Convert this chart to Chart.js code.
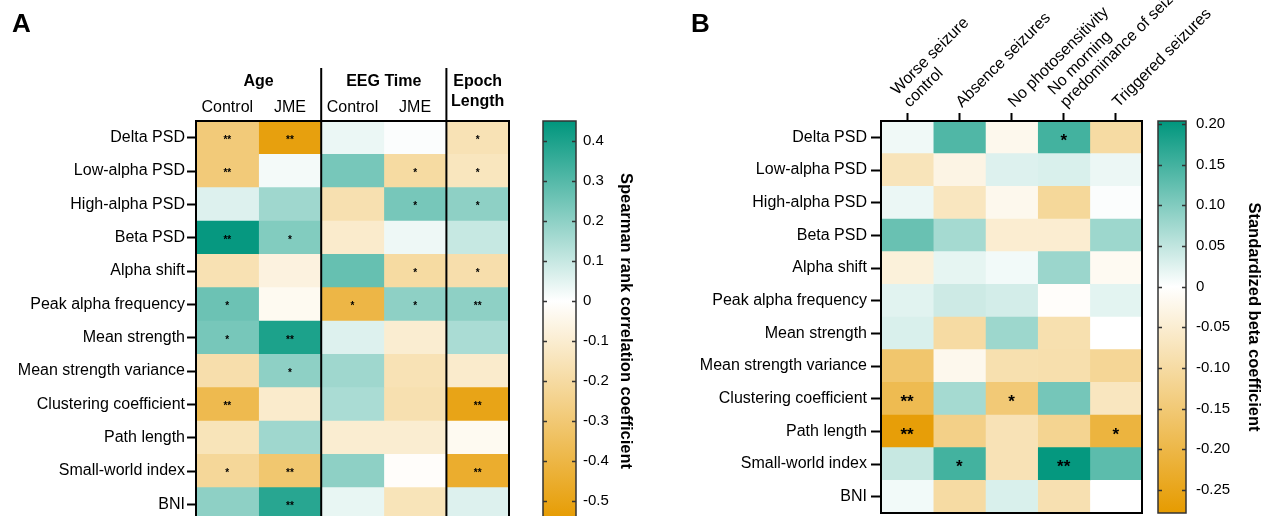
<!DOCTYPE html>
<html>
<head>
<meta charset="utf-8">
<script src="https://cdn.jsdelivr.net/npm/chart.js@4.4.0/dist/chart.umd.min.js"></script>
<style>
  html, body { margin: 0; padding: 0; background: #fff; overflow: hidden; }
  #wrap { position: relative; width: 1267px; height: 516px; overflow: hidden; }
  canvas { position: absolute; top: 0; }
</style>
</head>
<body>
<div id="wrap">
  <canvas id="heatA" width="520" height="540" style="left:0px"></canvas>
  <canvas id="barA" width="140" height="540" style="left:520px"></canvas>
  <canvas id="heatB" width="607" height="540" style="left:660px"></canvas>
  <canvas id="barB" width="127" height="540" style="left:1140px"></canvas>
</div>
<script>
// rows shared by both panels
const features = ["Delta PSD", "Low-alpha PSD", "High-alpha PSD", "Beta PSD", "Alpha shift",
  "Peak alpha frequency", "Mean strength", "Mean strength variance", "Clustering coefficient",
  "Path length", "Small-world index", "BNI"];

// panel A: Spearman rank correlations
const colsA = ["Control", "JME", "Control", "JME", ""];
const groupNamesA = ["Age", "EEG Time", ["Epoch", "Length"]];
const groupColsA = [[0, 2], [2, 4], [4, 5]];
const rhoA = [
  [-0.29, -0.52, 0.035, 0.007, -0.16],
  [-0.29, 0.02, 0.24, -0.20, -0.14],
  [0.06, 0.17, -0.17, 0.24, 0.20],
  [0.44, 0.22, -0.11, 0.03, 0.10],
  [-0.165, -0.07, 0.27, -0.20, -0.18],
  [0.26, -0.03, -0.40, 0.20, 0.20],
  [0.24, 0.40, 0.06, -0.10, 0.15],
  [-0.18, 0.20, 0.17, -0.16, -0.11],
  [-0.38, -0.11, 0.15, -0.17, -0.50],
  [-0.15, 0.17, -0.10, -0.10, -0.03],
  [-0.22, -0.31, 0.20, -0.01, -0.45],
  [0.20, 0.38, 0.04, -0.15, 0.06]
];
const starsA = [
  ["**", "**", "", "", "*"],
  ["**", "", "", "*", "*"],
  ["", "", "", "*", "*"],
  ["**", "*", "", "", ""],
  ["", "", "", "*", "*"],
  ["*", "", "*", "*", "**"],
  ["*", "**", "", "", ""],
  ["", "*", "", "", ""],
  ["**", "", "", "", "**"],
  ["", "", "", "", ""],
  ["*", "**", "", "", "**"],
  ["", "**", "", "", ""]
];
const rangeA = [-0.55, 0.45];
const ticksA = [0.4, 0.3, 0.2, 0.1, 0, -0.1, -0.2, -0.3, -0.4, -0.5];

// panel B: standardized beta coefficients
const colsB = [["Worse seizure", "control"], "Absence seizures", "No photosensitivity",
  ["No morning", "predominance of seizures"], "Triggered seizures"];
const betaB = [
  [0.012, 0.14, -0.02, 0.15, -0.10],
  [-0.075, -0.03, 0.027, 0.03, 0.015],
  [0.016, -0.07, -0.02, -0.11, 0.003],
  [0.12, 0.072, -0.05, -0.05, 0.078],
  [-0.04, 0.02, 0.01, 0.08, -0.014],
  [0.024, 0.04, 0.035, -0.005, 0.022],
  [0.03, -0.10, 0.078, -0.087, 0.0],
  [-0.16, -0.02, -0.087, -0.09, -0.115],
  [-0.19, 0.072, -0.15, 0.11, -0.07],
  [-0.27, -0.13, -0.08, -0.12, -0.21],
  [0.045, 0.15, -0.08, 0.20, 0.13],
  [0.01, -0.10, 0.03, -0.085, 0.0]
];
const starsB = [
  ["", "", "", "*", ""],
  ["", "", "", "", ""],
  ["", "", "", "", ""],
  ["", "", "", "", ""],
  ["", "", "", "", ""],
  ["", "", "", "", ""],
  ["", "", "", "", ""],
  ["", "", "", "", ""],
  ["**", "", "*", "", ""],
  ["**", "", "", "", "*"],
  ["", "*", "", "**", ""],
  ["", "", "", "", ""]
];
const rangeB = [-0.2785, 0.2037];
const ticksB = [0.20, 0.15, 0.10, 0.05, 0, -0.05, -0.10, -0.15, -0.20, -0.25];

const FONT = "'Liberation Sans', Arial, Helvetica, sans-serif";
Chart.defaults.font.family = FONT;
Chart.defaults.color = "#000";

const TEAL = [0, 150, 125];
const ORANGE = [230, 155, 0];

function mix(c, t) {
  t = Math.max(0, Math.min(1, t));
  return "rgb(" + c.map(v => Math.round(255 + (v - 255) * t)).join(",") + ")";
}
function colorFor(v, range) {
  return v >= 0 ? mix(TEAL, v / range[1]) : mix(ORANGE, v / range[0]);
}

function heatDatasets(values, range) {
  return values[0].map((_, j) => ({
    data: values.map(() => [j, j + 1]),
    backgroundColor: values.map(row => colorFor(row[j], range)),
    borderWidth: 0,
    grouped: false,
    barPercentage: 1,
    categoryPercentage: 1
  }));
}

function starPlugin(stars, size) {
  return {
    id: "stars",
    afterDatasetsDraw(chart) {
      const ctx = chart.ctx;
      ctx.save();
      ctx.fillStyle = "#000";
      ctx.font = "bold " + size + "px " + FONT;
      ctx.textAlign = "center";
      ctx.textBaseline = "middle";
      chart.data.datasets.forEach((ds, j) => {
        chart.getDatasetMeta(j).data.forEach((bar, i) => {
          if (!stars[i][j]) return;
          const p = bar.getCenterPoint();
          ctx.fillText(stars[i][j], p.x, p.y + size * 0.22);
        });
      });
      ctx.restore();
    }
  };
}

const boxPlugin = {
  id: "box",
  afterDatasetsDraw(chart) {
    const { ctx, chartArea: a } = chart;
    ctx.save();
    ctx.strokeStyle = "#000";
    ctx.lineWidth = 2;
    ctx.strokeRect(a.left, a.top, a.right - a.left, a.bottom - a.top);
    ctx.restore();
  }
};

function centreTicks(n) {
  return s => { s.ticks = Array.from({ length: n }, (_, j) => ({ value: j + 0.5 })); };
}

// ---------- panel A heatmap ----------
const headerA = {
  id: "headerA",
  afterDraw(chart) {
    const { ctx, chartArea: a, scales: { x } } = chart;
    ctx.save();
    ctx.fillStyle = "#000";
    ctx.font = "bold 26px " + FONT;
    ctx.textAlign = "left";
    ctx.textBaseline = "alphabetic";
    ctx.fillText("A", 12, 32);
    ctx.font = "bold 16px " + FONT;
    ctx.textAlign = "center";
    ctx.textBaseline = "middle";
    groupNamesA.forEach((name, k) => {
      const cx = (x.getPixelForValue(groupColsA[k][0]) + x.getPixelForValue(groupColsA[k][1])) / 2;
      [].concat(name).forEach((ln, i) => ctx.fillText(ln, cx, 82 + i * 20));
    });
    ctx.strokeStyle = "#000";
    ctx.lineWidth = 2;
    [2, 4].forEach(v => {
      const px = x.getPixelForValue(v);
      ctx.beginPath();
      ctx.moveTo(px, 68);
      ctx.lineTo(px, a.bottom);
      ctx.stroke();
    });
    ctx.restore();
  }
};

new Chart(document.getElementById("heatA"), {
  type: "bar",
  data: { labels: features, datasets: heatDatasets(rhoA, rangeA) },
  options: {
    indexAxis: "y",
    responsive: false,
    animation: false,
    layout: { padding: { left: 0, top: 0, right: 11, bottom: 19 } },
    plugins: { legend: { display: false }, tooltip: { enabled: false } },
    scales: {
      y: {
        type: "category",
        border: { display: false },
        grid: { display: true, drawOnChartArea: false, offset: false, tickLength: 9, tickWidth: 2, tickColor: "#000" },
        ticks: { font: { size: 16 }, padding: 2, color: "#000" },
        afterFit: s => { s.width = 196; s.paddingTop = 0; s.paddingBottom = 0; }
      },
      x: {
        type: "linear",
        position: "top",
        min: 0,
        max: colsA.length,
        border: { display: false },
        grid: { display: false, drawTicks: false },
        afterBuildTicks: centreTicks(colsA.length),
        ticks: { font: { size: 16 }, padding: 4, maxRotation: 0, autoSkip: false, color: "#000",
          callback: v => colsA[Math.floor(v)] },
        afterFit: s => { s.height = 121; s.paddingLeft = 0; s.paddingRight = 0; }
      }
    }
  },
  plugins: [boxPlugin, starPlugin(starsA, 10), headerA]
});

// ---------- panel B heatmap ----------
const headerB = {
  id: "headerB",
  afterDraw(chart) {
    const ctx = chart.ctx;
    ctx.save();
    ctx.fillStyle = "#000";
    ctx.font = "bold 26px " + FONT;
    ctx.textAlign = "left";
    ctx.textBaseline = "alphabetic";
    ctx.fillText("B", 31, 32);
    ctx.restore();
  }
};

new Chart(document.getElementById("heatB"), {
  type: "bar",
  data: { labels: features, datasets: heatDatasets(betaB, rangeB) },
  options: {
    indexAxis: "y",
    responsive: false,
    animation: false,
    layout: { padding: { left: 0, top: 0, right: 125, bottom: 27 } },
    plugins: { legend: { display: false }, tooltip: { enabled: false } },
    scales: {
      y: {
        type: "category",
        border: { display: false },
        grid: { display: true, drawOnChartArea: false, offset: false, tickLength: 10, tickWidth: 2, tickColor: "#000" },
        ticks: { font: { size: 16 }, padding: 4, color: "#000" },
        afterFit: s => { s.width = 221; s.paddingTop = 0; s.paddingBottom = 0; }
      },
      x: {
        type: "linear",
        position: "top",
        min: 0,
        max: colsB.length,
        border: { display: false },
        grid: { display: true, drawOnChartArea: false, tickLength: 8, tickWidth: 2, tickColor: "#000" },
        afterBuildTicks: centreTicks(colsB.length),
        ticks: { font: { size: 16, lineHeight: 1.1 }, padding: 2, labelOffset: 12, minRotation: 45, maxRotation: 45,
          autoSkip: false, color: "#000", callback: v => colsB[Math.floor(v)] },
        afterFit: s => { s.height = 121; s.paddingLeft = 0; s.paddingRight = 0; }
      }
    }
  },
  plugins: [boxPlugin, starPlugin(starsB, 17), headerB]
});

// ---------- colour bars ----------
function colourBar(id, range, ticks, digits, title, cfg) {
  const barFrame = {
    id: "barFrame",
    afterDatasetsDraw(chart) {
      const { ctx, chartArea: a, scales: { y } } = chart;
      ctx.save();
      ctx.strokeStyle = "#333";
      ctx.lineWidth = 1.5;
      ctx.strokeRect(a.left, a.top, a.right - a.left, a.bottom - a.top);
      ticks.forEach(v => {
        const py = Math.round(y.getPixelForValue(v)) + 0.5;
        ctx.beginPath();
        ctx.moveTo(a.left, py); ctx.lineTo(a.left + 4, py);
        ctx.moveTo(a.right - 4, py); ctx.lineTo(a.right, py);
        ctx.stroke();
      });
      ctx.restore();
    }
  };
  new Chart(document.getElementById(id), {
    type: "bar",
    data: {
      labels: [""],
      datasets: [{
        data: [[range[0], range[1]]],
        borderWidth: 0,
        barPercentage: 1,
        categoryPercentage: 1,
        backgroundColor: c => {
          const y = c.chart.scales.y;
          if (!c.chart.chartArea || !y) return "#fff";
          const top = y.getPixelForValue(range[1]);
          const bottom = y.getPixelForValue(range[0]);
          const g = c.chart.ctx.createLinearGradient(0, top, 0, bottom);
          g.addColorStop(0, colorFor(range[1], range));
          g.addColorStop(range[1] / (range[1] - range[0]), "#fff");
          g.addColorStop(1, colorFor(range[0], range));
          return g;
        }
      }]
    },
    options: {
      responsive: false,
      animation: false,
      layout: { padding: cfg.padding },
      plugins: { legend: { display: false }, tooltip: { enabled: false } },
      scales: {
        x: { display: false },
        y: {
          type: "linear",
          position: "right",
          min: range[0],
          max: range[1],
          border: { display: false },
          grid: { display: false, drawTicks: false },
          afterBuildTicks: s => { s.ticks = ticks.map(v => ({ value: v })); },
          ticks: { font: { size: 15 }, padding: cfg.tickPad, color: "#000",
            callback: v => (v === 0 ? "0" : v.toFixed(digits)) },
          title: { display: true, text: title, color: "#000", font: { size: 16.5, weight: "bold" },
            padding: { top: cfg.titlePad, bottom: 0 } },
          afterFit: s => { s.width = cfg.width; s.paddingTop = 0; s.paddingBottom = 0; }
        }
      }
    },
    plugins: [barFrame]
  });
}

colourBar("barA", rangeA, ticksA, 1, "Spearman rank correlation coefficient",
  { padding: { left: 23, top: 121, right: 0, bottom: 19 }, width: 84, tickPad: 7, titlePad: 25 });
colourBar("barB", rangeB, ticksB, 2, "Standardized beta coefficient",
  { padding: { left: 18, top: 121, right: 0, bottom: 27 }, width: 81, tickPad: 10, titlePad: 4 });
</script>
</body>
</html>
